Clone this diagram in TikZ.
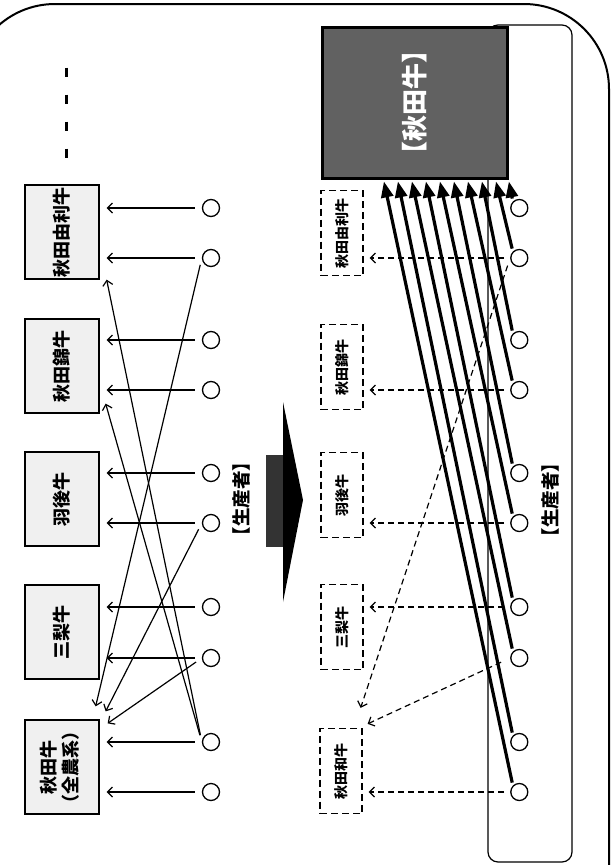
\documentclass[tikz,border=0pt]{standalone}
\usepackage{fontspec}
\usepackage{graphicx}
\usepackage{tikz}
\usetikzlibrary{arrows.meta, positioning}
\newfontfamily\jp{Noto Sans CJK JP}

\begin{document}
\begin{tikzpicture}[
    x=1pt, y=-1pt,
    node distance=290pt,
    every node/.style={font=\jp},
    brandbox/.style={rectangle, draw, line width=1.3pt, fill=gray!12, minimum width=74pt, minimum height=94pt, inner sep=0pt, font=\jp\bfseries\fontsize{18}{21}\selectfont},
    newbox/.style={rectangle, draw, line width=1.3pt, dash pattern=on 7pt off 4pt, minimum width=42pt, minimum height=85pt, inner sep=0pt, font=\jp\bfseries\fontsize{14}{16}\selectfont},
    farm/.style={circle, draw, line width=1.3pt, minimum size=17pt, inner sep=0pt},
    tag/.style={font=\jp\bfseries\fontsize{18.5}{21}\selectfont},
    sel/.style={-{Straight Barb[length=5pt,width=10pt]}, line width=1.2pt, shorten <=7pt, shorten >=7pt},
    dsel/.style={sel, dash pattern=on 6pt off 4pt, shorten <=6pt, shorten >=6pt},
    unify/.style={-{Triangle[length=16pt,width=12pt]}, line width=3.2pt, shorten <=3pt, shorten >=2pt}
]
\useasboundingbox (0,0) rectangle (613,865);
\clip (0,0) rectangle (613,865);
\draw[line width=2pt, rounded corners=85pt] (-30,4) rectangle (609,950);
\draw[line width=1.2pt, rounded corners=10pt] (488,25) rectangle (572,862);
\draw[line width=3pt, dash pattern=on 9pt off 18pt] (66,67.5) -- (66,160);

\node[brandbox] (yuri) at (62,232) {\rotatebox{90}{秋田由利牛}};
\node[brandbox] (nishiki) at (62,366) {\rotatebox{90}{秋田錦牛}};
\node[brandbox] (ugo) at (62,499) {\rotatebox{90}{羽後牛}};
\node[brandbox] (sannashi) at (62,632) {\rotatebox{90}{三梨牛}};
\node[brandbox] (akita) at (62,767) {\rotatebox{90}{\begin{tabular}{@{}c@{}}秋田牛\\（全農系）\end{tabular}}};

\node[farm] (p1) at (211,208) {};
\node[farm] (p2) at (211,258) {};
\node[farm] (p3) at (211,340) {};
\node[farm] (p4) at (211,390) {};
\node[farm] (p5) at (211,473) {};
\node[farm] (p6) at (211,523) {};
\node[farm] (p7) at (211,607) {};
\node[farm] (p8) at (211,658) {};
\node[farm] (p9) at (211,742) {};
\node[farm] (p10) at (211,792) {};
\node[farm, right=of p1] (q1) {};
\node[farm, right=of p2] (q2) {};
\node[farm, right=of p3] (q3) {};
\node[farm, right=of p4] (q4) {};
\node[farm, right=of p5] (q5) {};
\node[farm, right=of p6] (q6) {};
\node[farm, right=of p7] (q7) {};
\node[farm, right=of p8] (q8) {};
\node[farm, right=of p9] (q9) {};
\node[farm, right=of p10] (q10) {};

\node[tag] (prodL) at (241,499) {\rotatebox{90}{【生産者】}};
\node[tag] (prodR) at (550,500) {\rotatebox{90}{【生産者】}};
\fill[black!80] (266,455) rectangle (286,547);
\fill (283,402) -- (303,500) -- (283,602) -- cycle;

\node[newbox] (yuri2) at (342,233) {\rotatebox{90}{秋田由利牛}};
\node[newbox] (nishiki2) at (342,367) {\rotatebox{90}{秋田錦牛}};
\node[newbox] (ugo2) at (342,495) {\rotatebox{90}{羽後牛}};
\node[newbox] (sannashi2) at (342,627) {\rotatebox{90}{三梨牛}};
\node[newbox] (wagyu2) at (341,771) {\rotatebox{90}{秋田和牛}};
\node[draw, line width=3pt, fill=black!62, minimum width=185pt, minimum height=151pt, text=white, font=\jp\bfseries\fontsize{26}{28}\selectfont] (brand) at (414.5,102.5) {\rotatebox{90}{【秋田牛】}};

\draw[sel] (p1.west) -- (p1.west -| yuri.east);
\draw[sel] (p2.west) -- (p2.west -| yuri.east);
\draw[sel] (p3.west) -- (p3.west -| nishiki.east);
\draw[sel] (p4.west) -- (p4.west -| nishiki.east);
\draw[sel] (p5.west) -- (p5.west -| ugo.east);
\draw[sel] (p6.west) -- (p6.west -| ugo.east);
\draw[sel] (p7.west) -- (p7.west -| sannashi.east);
\draw[sel] (p8.west) -- (p8.west -| sannashi.east);
\draw[sel] (p9.west) -- (p9.west -| akita.east);
\draw[sel] (p10.west) -- (p10.west -| akita.east);
\draw[sel, shorten >=0pt] (p9.west) -- ([xshift=7pt]yuri.south east);
\draw[sel, shorten >=0pt] (p9.west) -- ([xshift=6pt, yshift=10pt]nishiki.south east);
\draw[sel, shorten >=0pt] (p2.west) -- ([xshift=-4pt, yshift=13pt]akita.north east);
\draw[sel, shorten >=0pt] (p6.west) -- ([xshift=6pt, yshift=8pt]akita.north east);
\draw[sel, shorten >=0pt] (p8.west) -- ([xshift=8pt, yshift=-4pt]akita.north east);

\draw[dsel] (q2.west) -- (q2.west -| yuri2.east);
\draw[dsel] (q4.west) -- (q4.west -| nishiki2.east);
\draw[dsel] (q6.west) -- (q6.west -| ugo2.east);
\draw[dsel] (q7.west) -- (q7.west -| sannashi2.east);
\draw[dsel] (q10.west) -- (q10.west -| wagyu2.east);
\draw[dsel, shorten <=8pt, shorten >=0pt] (q2.west) -- ([xshift=-2pt, yshift=20pt]wagyu2.north east);
\draw[dsel, shorten <=10pt, shorten >=0pt] (q8.west) -- ([xshift=5pt, yshift=4pt]wagyu2.north east);

\draw[unify] (q1.north west) -- (brand.south east);
\draw[unify] (q2.north west) -- ([xshift=-13pt]brand.south east);
\draw[unify] (q3.north west) -- ([xshift=-27pt]brand.south east);
\draw[unify] (q4.north west) -- ([xshift=-41pt]brand.south east);
\draw[unify] (q5.north west) -- ([xshift=-55pt]brand.south east);
\draw[unify] (q6.north west) -- ([xshift=-69pt]brand.south east);
\draw[unify] (q7.north west) -- ([xshift=-83pt]brand.south east);
\draw[unify] (q8.north west) -- ([xshift=-97pt]brand.south east);
\draw[unify] (q9.north west) -- ([xshift=-111pt]brand.south east);
\draw[unify] (q10.north west) -- ([xshift=-125pt]brand.south east);
\end{tikzpicture}
\end{document}
